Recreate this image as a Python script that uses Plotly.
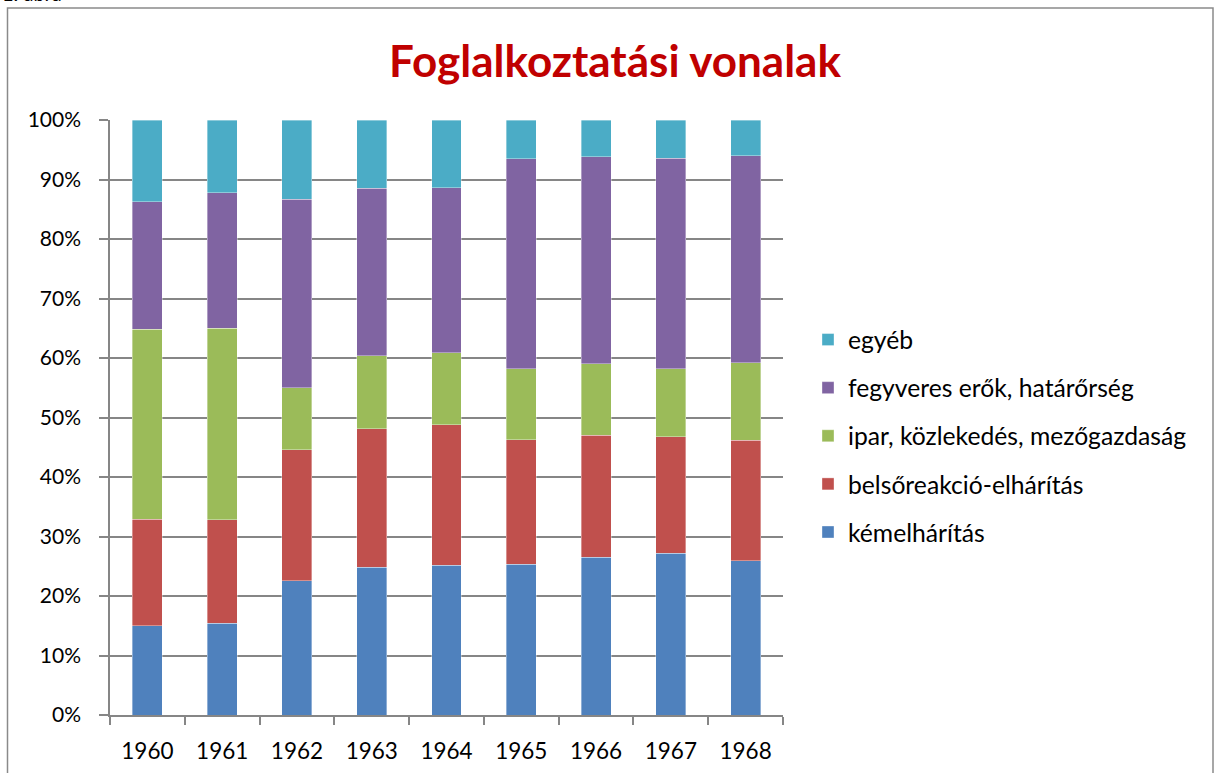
import plotly.graph_objects as go

years = ["1960", "1961", "1962", "1963", "1964", "1965", "1966", "1967", "1968"]
kemelharitas = [15.0, 15.4, 22.6, 24.8, 25.2, 25.3, 26.5, 27.2, 25.9]
belsoreakcio = [17.9, 17.4, 22.0, 23.3, 23.6, 21.0, 20.5, 19.6, 20.3]
ipar = [31.9, 32.2, 10.4, 12.3, 12.1, 11.9, 12.0, 11.4, 13.0]
fegyveres = [21.5, 22.8, 31.7, 28.1, 27.7, 35.3, 34.8, 35.4, 34.8]
egyeb = [13.7, 12.2, 13.3, 11.5, 11.4, 6.5, 6.2, 6.4, 6.0]

series_names = ["kémelhárítás", "belsőreakció-elhárítás", "ipar, közlekedés, mezőgazdaság",
                "fegyveres erők, határőrség", "egyéb"]
series_values = [kemelharitas, belsoreakcio, ipar, fegyveres, egyeb]
series_colors = ["#4F81BD", "#C0504D", "#9BBB59", "#8064A2", "#4BACC6"]

y_ticks = [0, 10, 20, 30, 40, 50, 60, 70, 80, 90, 100]
y_tick_labels = [f"{v}%" for v in y_ticks]

FONT = "Lato"

fig = go.Figure()
n = len(series_names)
for i, (name, vals, col) in enumerate(zip(series_names, series_values, series_colors)):
    fig.add_trace(go.Bar(
        x=years, y=vals, name=name, legendgroup=f"g{i}", legendrank=n - i,
        marker=dict(color=col, line=dict(color="rgba(255,255,255,0.45)", width=0.8)),
    ))

# plot area in pixels: x 110..783, y 120..715
L, R, T, B = 110, 783, 120, 715
W, H = 1214, 773
pw, ph = R - L, B - T

def px_x(x):
    return (x - L) / pw

def px_y(y):
    return (B - y) / ph

fig.update_layout(
    width=W, height=H,
    margin=dict(l=L, r=W - R, t=T, b=H - B, pad=0),
    barmode="stack", bargap=0.6,
    paper_bgcolor="white", plot_bgcolor="white",
    font=dict(family=FONT, size=20, color="#000000"),
    title=dict(text="<b>Foglalkoztatási vonalak</b>", x=615 / W, xanchor="center",
               y=1 - 62 / H, yanchor="middle", xref="container", yref="container",
               font=dict(family=FONT, size=44, color="#C00000")),
    xaxis=dict(showgrid=False, showline=True, linecolor="#868686", linewidth=1.5,
               ticks="outside", tickson="boundaries", ticklen=8, tickcolor="#868686",
               tickwidth=1.5, tickfont=dict(size=22.5), ticklabelstandoff=15,
               automargin=False),
    yaxis=dict(range=[0, 100], tickvals=y_ticks, ticktext=y_tick_labels,
               showgrid=True, gridcolor="#868686", gridwidth=1.5,
               showline=True, linecolor="#868686", linewidth=1.5,
               ticks="outside", ticklen=9, tickcolor="#868686", tickwidth=1.5,
               tickfont=dict(size=21), ticklabelstandoff=14, zeroline=False,
               automargin=False),
    legend=dict(x=px_x(808), xanchor="left", y=px_y(317), yanchor="top",
                traceorder="grouped", tracegroupgap=13,
                font=dict(family=FONT, size=24.7), itemwidth=30,
                bgcolor="rgba(0,0,0,0)"),
    shapes=[dict(type="rect", xref="paper", yref="paper",
                 x0=px_x(7.5), x1=px_x(1213), y0=px_y(800), y1=px_y(8),
                 line=dict(color="#8A8A8A", width=1.5), fillcolor="rgba(0,0,0,0)",
                 layer="below")],
    annotations=[dict(text="1. ábra", xref="paper", yref="paper",
                      x=px_x(0), xanchor="left", y=px_y(2), yanchor="bottom",
                      showarrow=False, yshift=-5,
                      font=dict(family=FONT, size=20, color="#000000"))],
)

fig.write_html("out.html", config={"displayModeBar": False},
               post_script="document.body.style.margin='0';")
